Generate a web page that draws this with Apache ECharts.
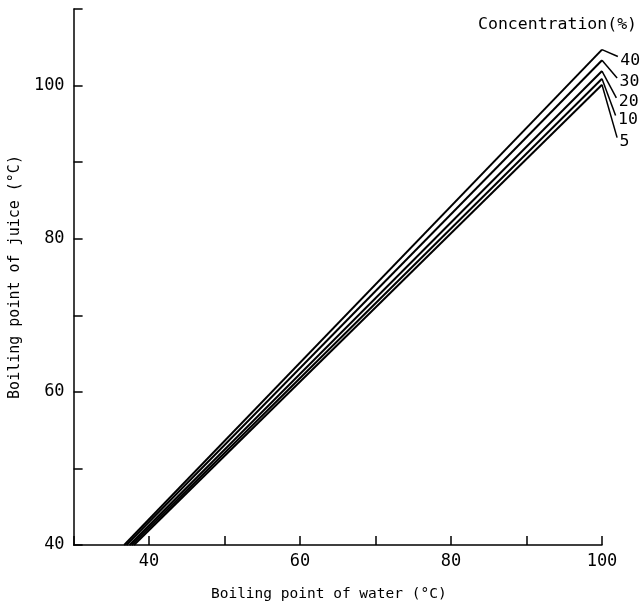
<!DOCTYPE html>
<html>
<head>
<meta charset="utf-8">
<script src="https://cdn.jsdelivr.net/npm/echarts@6/dist/echarts.min.js"></script>
<style>html,body{margin:0;padding:0;background:#fff;}#c{width:644px;height:607px;}</style>
</head>
<body>
<div id="c"></div>
<script>
// Concentration (%) of each curve
const concentrations = ['40', '30', '20', '10', '5'];
// Boiling point of water (°C) where each curve meets juice = 40 °C
const startWater = [36.7, 37.0, 37.4, 37.7, 38.0];
const startJuice = [40, 40, 40, 40, 40];
// Boiling point of juice (°C) at water = 100 °C
const endWater = [100, 100, 100, 100, 100];
const endJuice = [104.7, 103.3, 101.9, 100.9, 100.1];
// Leader-line end points (label anchors) in data units
const leaderWater = [102.1, 102.0, 101.9, 101.8, 102.0];
const leaderJuice = [103.8, 101.0, 98.4, 96.1, 93.2];
// Axis ticks
const xTicksLabelled = [40, 60, 80, 100];
const yTicksLabelled = [40, 60, 80, 100];

const FONT = 'DejaVu Sans Mono';
const chart = echarts.init(document.getElementById('c'), null, {renderer: 'canvas'});

const series = concentrations.map((c, i) => ({
  name: c,
  type: 'line',
  symbol: 'none',
  silent: true,
  lineStyle: {color: '#000', width: 2},
  data: [
    [startWater[i], startJuice[i]],
    [endWater[i], endJuice[i]]
  ]
}));

// leader lines from each curve end to its label
series.push({
  type: 'lines',
  coordinateSystem: 'cartesian2d',
  clip: false,
  silent: true,
  lineStyle: {color: '#000', width: 1.5, opacity: 1, curveness: 0},
  data: concentrations.map((c, i) => ({
    name: c,
    coords: [[endWater[i], endJuice[i]], [leaderWater[i], leaderJuice[i]]]
  }))
});

// concentration labels at the leader ends
series.push({
  type: 'scatter',
  clip: false,
  silent: true,
  symbol: 'circle',
  symbolSize: 1,
  itemStyle: {color: 'rgba(0,0,0,0)', opacity: 1},
  label: {
    show: true,
    position: 'right',
    distance: 2,
    offset: [0, 4],
    formatter: p => p.name,
    color: '#000',
    fontFamily: FONT,
    fontSize: 16.5
  },
  data: concentrations.map((c, i) => ({name: c, value: [leaderWater[i], leaderJuice[i]]}))
});

chart.setOption({
  animation: false,
  backgroundColor: '#fff',
  title: {
    text: 'Concentration(%)',
    right: 2,
    top: 11,
    textStyle: {fontFamily: FONT, fontSize: 16.5, fontWeight: 'normal', color: '#000'}
  },
  grid: {left: 71.5, right: 42, top: 9, bottom: 60},
  xAxis: {
    type: 'value',
    min: 30, max: 100, interval: 10,
    name: 'Boiling point of water (°C)',
    nameLocation: 'middle',
    nameGap: 42,
    nameTextStyle: {fontFamily: FONT, fontSize: 14.5, color: '#000', padding: [0, 18, 0, 0]},
    axisLine: {show: true, lineStyle: {color: '#000', width: 1.5}},
    axisTick: {show: true, inside: true, length: 9, lineStyle: {color: '#000', width: 1.5}},
    splitLine: {show: false},
    axisLabel: {
      margin: 8, color: '#000', fontFamily: FONT, fontSize: 17,
      showMinLabel: true, showMaxLabel: true,
      formatter: v => xTicksLabelled.includes(v) ? String(v) : ''
    }
  },
  yAxis: {
    type: 'value',
    min: 40, max: 110, interval: 10,
    name: 'Boiling point of juice (°C)',
    nameLocation: 'middle',
    nameGap: 50,
    nameTextStyle: {fontFamily: FONT, fontSize: 15, color: '#000'},
    axisLine: {show: true, lineStyle: {color: '#000', width: 1.5}},
    axisTick: {show: true, inside: true, length: 9, lineStyle: {color: '#000', width: 1.5}},
    splitLine: {show: false},
    axisLabel: {
      margin: 9, color: '#000', fontFamily: FONT, fontSize: 17,
      showMinLabel: true, showMaxLabel: true,
      formatter: v => yTicksLabelled.includes(v) ? String(v) : ''
    }
  },
  series: series
});
</script>
</body>
</html>
